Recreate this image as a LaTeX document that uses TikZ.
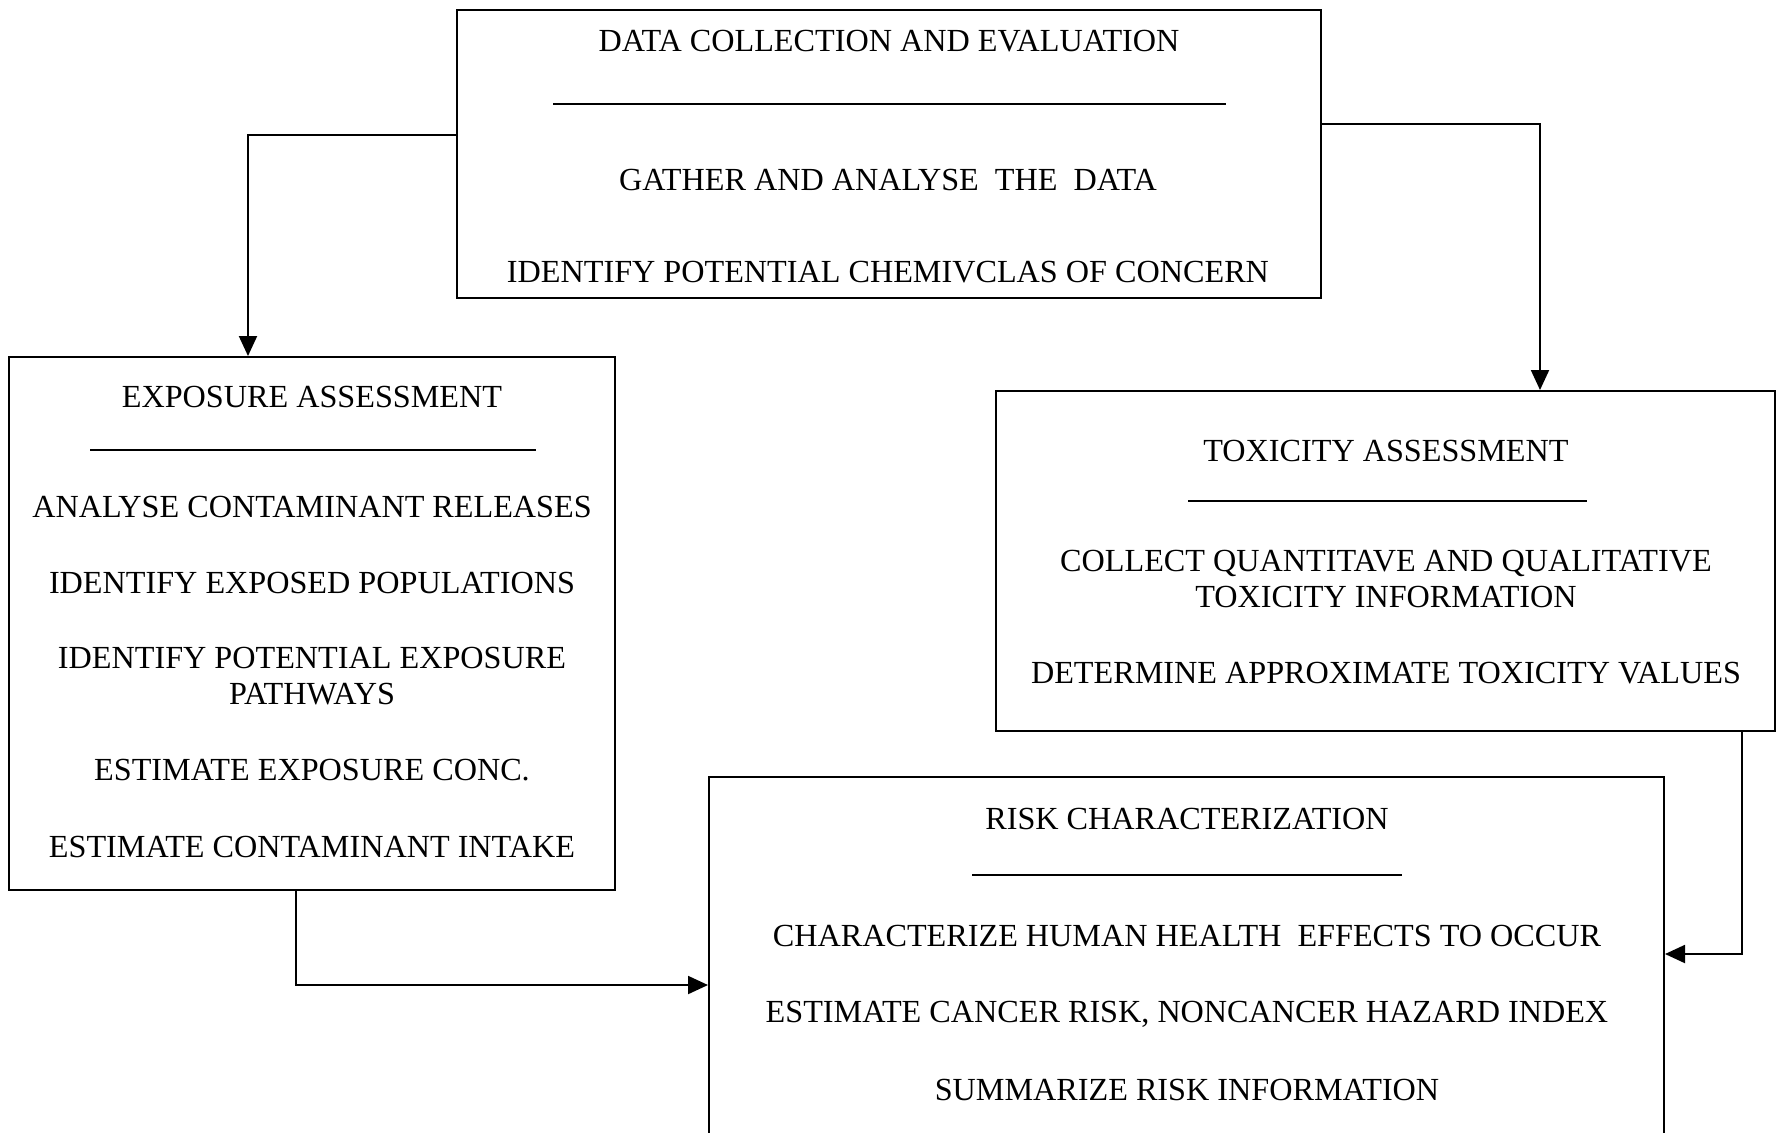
\documentclass[tikz,border=0pt]{standalone}
\usepackage{fontspec}
\setmainfont{Liberation Serif}
\usetikzlibrary{arrows.meta,calc,fit}
\begin{document}
\begin{tikzpicture}[x=0.5pt,y=-0.5pt,
  box/.style={draw, line width=1pt, inner sep=0pt},
  lbl/.style={font=\fontsize{16.1}{18}\selectfont, anchor=base, align=center, inner sep=0pt},
  sepline/.style={line width=0.8pt},
  arr/.style={line width=1pt, -{Triangle[length=10pt,width=9pt]}}]
\useasboundingbox (0,0) rectangle (1777,1132);
\clip (0,0) rectangle (1777,1132);
\fill[white] (0,0) rectangle (1777,1132);

% boxes
\node[box, fit={(457,10) (1321,298)}] (data) {};
\node[box, fit={(9,357) (615,890)}] (expo) {};
\node[box, fit={(996,391) (1775,731)}] (tox) {};
\node[box, fit={(709,777) (1664,1180)}] (risk) {};

% separators
\draw[sepline] (553,104) -- (1226,104);
\draw[sepline] (90,450) -- (536,450);
\draw[sepline] (1188,501) -- (1587,501);
\draw[sepline] (972,875) -- (1402,875);

% top box texts
\node[lbl] (d1) at (889,51) {DATA COLLECTION AND EVALUATION};
\node[lbl] (d2) at (888,190) {GATHER AND ANALYSE\ \ THE\ \ DATA};
\node[lbl] (d3) at (888,282) {IDENTIFY POTENTIAL CHEMIVCLAS OF CONCERN};

% exposure texts
\node[lbl] (e1) at (312,407) {EXPOSURE ASSESSMENT};
\node[lbl] (e2) at (312,517) {ANALYSE CONTAMINANT RELEASES};
\node[lbl] (e3) at (312,593) {IDENTIFY EXPOSED POPULATIONS};
\node[lbl] (e4) at (312,704) {IDENTIFY POTENTIAL EXPOSURE\\PATHWAYS};
\node[lbl] (e5) at (312,780) {ESTIMATE EXPOSURE CONC.};
\node[lbl] (e6) at (312,857) {ESTIMATE CONTAMINANT INTAKE};

% toxicity texts
\node[lbl] (x1) at (1386,461) {TOXICITY ASSESSMENT};
\node[lbl] (x2) at (1386,607) {COLLECT QUANTITAVE AND QUALITATIVE\\TOXICITY INFORMATION};
\node[lbl] (x3) at (1386,683) {DETERMINE APPROXIMATE TOXICITY VALUES};

% risk texts
\node[lbl] (r1) at (1187,829) {RISK CHARACTERIZATION};
\node[lbl] (r2) at (1187,946) {CHARACTERIZE HUMAN HEALTH\ \ EFFECTS TO OCCUR};
\node[lbl] (r3) at (1187,1022) {ESTIMATE CANCER RISK, NONCANCER HAZARD INDEX};
\node[lbl] (r4) at (1187,1100) {SUMMARIZE RISK INFORMATION};

% connectors
\draw[arr] ($(data.north west)+(0,126)$) -| ($(expo.north west)+(240,0)$);
\draw[arr] ($(data.north east)+(0,115)$) -| ($(tox.north west)+(545,0)$);
\draw[arr] ($(tox.south west)+(747,0)$) |- ($(risk.north east)+(0,178)$);
\draw[arr] ($(expo.south west)+(288,0)$) |- ($(risk.north west)+(0,209)$);
\end{tikzpicture}
\end{document}
